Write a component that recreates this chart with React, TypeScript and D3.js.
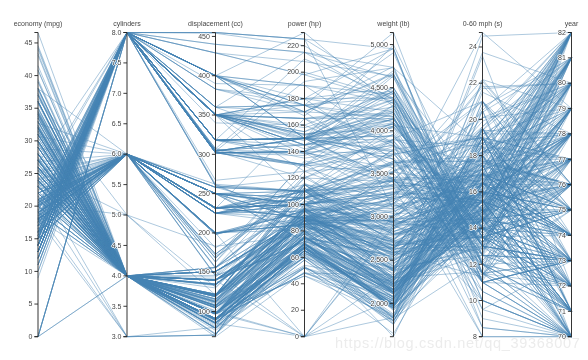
import React, { useEffect, useRef } from "react";
import * as d3 from "d3";

// Each row: economy (mpg), cylinders, displacement (cc), power (hp), weight (lb), 0-60 mph (s)
const cars70 = [
[18,8,307,130,3504,12],[15,8,350,165,3693,11.5],[18,8,318,150,3436,11],[16,8,304,150,3433,12],[17,8,302,140,3449,10.5],
[15,8,429,198,4341,10],[14,8,454,220,4354,9],[14,8,440,215,4312,8.5],[14,8,455,225,4425,10],[15,8,390,190,3850,8.5],
[0,4,133,115,3090,17.5],[0,8,350,165,4142,11.5],[0,8,351,153,4034,11],[0,8,383,175,4166,10.5],[0,8,360,175,3850,11],
[0,8,302,140,3353,8],[15,8,383,170,3563,10],[14,8,340,160,3609,8],[15,8,400,150,3761,9.5],[14,8,455,225,3086,10],
[24,4,113,95,2372,15],[22,6,198,95,2833,15.5],[18,6,199,97,2774,15.5],[21,6,200,85,2587,16],[27,4,97,88,2130,14.5],
[26,4,97,46,1835,20.5],[25,4,110,87,2672,17.5],[24,4,107,90,2430,14.5],[25,4,104,95,2375,17.5],[26,4,121,113,2234,12.5],
[21,6,199,90,2648,15],[10,8,360,215,4615,14],[10,8,307,200,4376,15],[11,8,318,210,4382,13.5],[9,8,304,193,4732,18.5],
];
const cars71 = [
[27,4,97,88,2130,14.5],[28,4,140,90,2264,15.5],[25,4,113,95,2228,14],[25,4,98,0,2046,19],[19,6,232,100,2634,13],
[16,6,225,105,3439,15.5],[17,6,250,100,3329,15.5],[19,6,250,88,3302,15.5],[18,6,232,100,3288,15.5],[14,8,350,165,4209,12],
[14,8,400,175,4464,11.5],[14,8,351,153,4154,13.5],[14,8,318,150,4096,13],[12,8,383,180,4955,11.5],[13,8,400,170,4746,12],
[13,8,400,175,5140,12],[18,6,258,110,2962,13.5],[22,4,140,72,2408,19],[19,6,250,100,3282,15],[18,6,250,88,3139,14.5],
[23,4,122,86,2220,14],[28,4,116,90,2123,14],[30,4,79,70,2074,19.5],[30,4,88,76,2065,14.5],[31,4,71,65,1773,19],
[35,4,72,69,1613,18],[27,4,97,60,1834,19],[26,4,91,70,1955,20.5],[24,4,113,95,2278,15.5],
];
const cars72 = [
[25,4,97.5,80,2126,17],[23,4,97,54,2254,23.5],[20,4,140,90,2408,19.5],[21,4,122,86,2226,16.5],[13,8,350,165,4274,12],
[14,8,400,175,4385,12],[15,8,318,150,4135,13.5],[14,8,351,153,4129,13],[17,8,304,150,3672,11.5],[11,8,429,208,4633,11],
[13,8,350,155,4502,13.5],[12,8,350,160,4456,13.5],[13,8,400,190,4422,12.5],[19,3,70,97,2330,13.5],[15,8,304,150,3892,12.5],
[13,8,307,130,4098,14],[13,8,302,140,4294,16],[14,8,318,150,4077,14],[18,4,121,112,2933,14.5],[22,4,121,76,2511,18],
[21,4,120,87,2979,19.5],[26,4,96,69,2189,18],[22,4,122,86,2395,16],[28,4,97,92,2288,17],[23,4,120,97,2506,14.5],
[28,4,98,80,2164,15],[27,4,97,88,2100,16.5],
];
const cars73 = [
[13,8,350,175,4100,13],[14,8,304,150,3672,11.5],[13,8,350,145,3988,13],[14,8,302,137,4042,14.5],[15,8,318,150,3777,12.5],
[12,8,429,198,4952,11.5],[13,8,400,150,4464,12],[13,8,351,158,4363,13],[14,8,318,150,4237,14.5],[13,8,440,215,4735,11],
[12,8,455,225,4951,11],[13,8,360,175,3821,11],[18,6,225,105,3121,16.5],[16,6,250,100,3278,18],[18,6,232,100,2945,16],
[18,6,250,88,3021,16.5],[23,6,198,95,2904,16],[26,4,97,46,1950,21],[11,8,400,150,4997,14],[12,8,400,167,4906,12.5],
[13,8,360,170,4654,13],[12,8,350,180,4499,12.5],[18,6,232,100,2789,15],[20,4,97,88,2279,19],[21,4,140,72,2401,19.5],
[22,4,108,94,2379,16.5],[18,3,70,90,2124,13.5],[19,4,122,85,2310,18.5],[21,6,155,107,2472,14],[26,4,98,90,2265,15.5],
[15,8,350,145,4082,13],[16,8,400,230,4278,9.5],[29,4,68,49,1867,19.5],[24,4,116,75,2158,15.5],[20,4,114,91,2582,14],
[19,4,121,112,2868,15.5],[15,8,318,150,3399,11],[24,4,121,110,2660,14],[20,6,156,122,2807,13.5],[11,8,350,180,3664,11],
];
const cars74 = [
[20,6,198,95,3102,16.5],[21,6,200,0,2875,17],[19,6,232,100,2901,16],[15,6,250,100,3336,17],[31,4,79,67,1950,19],
[26,4,122,80,2451,16.5],[32,4,71,65,1836,21],[25,4,140,75,2542,17],[16,6,250,100,3781,17],[16,6,258,110,3632,18],
[18,6,225,105,3613,16.5],[16,8,302,140,4141,14],[13,8,350,150,4699,14.5],[14,8,318,150,4457,13.5],[14,8,302,140,4638,16],
[14,8,304,150,4257,15.5],[29,4,98,83,2219,16.5],[26,4,79,67,1963,15.5],[26,4,97,78,2300,14.5],[31,4,76,52,1649,16.5],
[32,4,83,61,2003,19],[28,4,90,75,2125,14.5],[24,4,90,75,2108,15.5],[26,4,116,75,2246,14],[24,4,120,97,2489,15],
[26,4,108,93,2391,15.5],[31,4,79,67,2000,16],
];
const cars75 = [
[19,6,225,95,3264,16],[18,6,250,105,3459,16],[15,6,250,72,3432,21],[15,6,250,72,3158,19.5],[16,8,400,170,4668,11.5],
[15,8,350,145,4440,14],[16,8,318,150,4498,14.5],[14,8,351,148,4657,13.5],[17,6,231,110,3907,21],[16,6,250,105,3897,18.5],
[15,6,258,110,3730,19],[18,6,225,95,3785,19],[21,6,231,110,3039,15],[20,8,262,110,3221,13.5],[13,8,302,129,3169,12],
[29,4,97,75,2171,16],[23,4,140,83,2639,17],[20,6,232,100,2914,16],[23,4,140,78,2592,18.5],[24,4,134,96,2702,13.5],
[25,4,90,71,2223,16.5],[24,4,119,97,2545,17],[18,6,171,97,2984,14.5],[29,4,90,70,1937,14],[19,6,232,90,3211,17],
[23,4,115,95,2694,15],[23,4,120,88,2957,17],[22,4,121,98,2945,14.5],[25,4,121,115,2671,13.5],[33,4,91,53,1795,17.5],
];
const cars76 = [
[28,4,107,86,2464,15.5],[25,4,116,81,2220,16.9],[25,4,140,92,2572,14.9],[26,4,98,79,2255,17.7],[27,4,101,83,2202,15.3],
[17.5,8,305,140,4215,13],[16,8,318,150,4190,13],[15.5,8,304,120,3962,13.9],[14.5,8,351,152,4215,12.8],[22,6,225,100,3233,15.4],
[22,6,250,105,3353,14.5],[24,6,200,81,3012,17.6],[22.5,6,232,90,3085,17.6],[29,4,85,52,2035,22.2],[24.5,4,98,60,2164,22.1],
[29,4,90,70,1937,14.2],[33,4,91,53,1795,17.4],[20,6,225,100,3651,17.7],[18,6,250,78,3574,21],[18.5,6,250,110,3645,16.2],
[17.5,6,258,95,3193,17.8],[29.5,4,97,71,1825,12.2],[32,4,85,70,1990,17],[28,4,97,75,2155,16.4],[26.5,4,140,72,2565,13.6],
[20,4,130,102,3150,15.7],[13,8,318,150,3940,13.2],[19,4,120,88,3270,21.9],[19,6,156,108,2930,15.5],[16.5,6,168,120,3820,16.7],
[16.5,8,350,180,4380,12.1],[13,8,350,145,4055,12],[13,8,302,130,3870,15],[13,8,318,150,3755,14],
];
const cars77 = [
[31.5,4,98,68,2045,18.5],[30,4,111,80,2155,14.8],[36,4,79,58,1825,18.6],[25.5,4,122,96,2300,15.5],[33.5,4,85,70,1945,16.8],
[17.5,8,305,145,3880,12.5],[17,8,260,110,4060,19],[15.5,8,318,145,4140,13.7],[15,8,302,130,4295,14.9],[17.5,6,250,110,3520,16.4],
[20.5,6,231,105,3425,16.9],[19,6,225,100,3630,17.7],[18.5,6,250,98,3525,19],[16,8,400,180,4220,11.1],[15.5,8,350,170,4165,11.4],
[15.5,8,400,190,4325,12.2],[16,8,351,149,4335,14.5],[29,4,97,78,1940,14.5],[24.5,4,151,88,2740,16],[26,4,97,75,2265,18.2],
[25.5,4,140,89,2755,15.8],[30.5,4,98,63,2051,17],[33.5,4,98,83,2075,15.9],[30,4,97,67,1985,16.4],[30.5,4,97,78,2190,14.1],
[22,6,146,97,2815,14.5],[21.5,4,121,110,2600,12.8],[21.5,3,80,110,2720,13.5],
];
const cars78 = [
[43.1,4,90,48,1985,21.5],[36.1,4,98,66,1800,14.4],[32.8,4,78,52,1985,19.4],[39.4,4,85,70,2070,18.6],[36.1,4,91,60,1800,16.4],
[19.9,8,260,110,3365,15.5],[19.4,8,318,140,3735,13.2],[20.2,8,302,139,3570,12.8],[19.2,6,231,105,3535,19.2],[20.5,6,200,95,3155,18.2],
[20.2,6,200,85,2965,15.8],[25.1,4,140,88,2720,15.4],[20.5,6,225,100,3430,17.2],[19.4,6,232,90,3210,17.2],[20.6,6,231,105,3380,15.8],
[20.8,6,200,85,3070,16.7],[18.6,6,225,110,3620,18.7],[18.1,6,258,120,3410,15.1],[19.2,8,305,145,3425,13.2],[17.7,6,231,165,3445,13.4],
[18.1,8,302,139,3205,11.2],[17.5,8,318,140,4080,13.7],[30,4,98,68,2155,16.5],[27.5,4,134,95,2560,14.2],[27.2,4,119,97,2300,14.7],
[30.9,4,105,75,2230,14.5],[21.1,4,134,95,2515,14.8],[23.2,4,156,105,2745,16.7],[23.8,4,151,85,2855,17.6],[23.9,4,119,97,2405,14.9],
[20.3,5,131,103,2830,15.9],[17,6,163,125,3140,13.6],[21.6,4,121,115,2795,15.7],[16.2,6,163,133,3410,15.8],[31.5,4,89,71,1990,14.9],
[29.5,4,98,68,2135,16.6],
];
const cars79 = [
[21.5,6,231,115,3245,15.4],[19.8,6,200,85,2990,18.2],[22.3,4,140,88,2890,17.3],[20.2,6,232,90,3265,18.2],[20.6,6,225,110,3360,16.6],
[17,8,305,130,3840,15.4],[17.6,8,302,129,3725,13.4],[16.5,8,351,138,3955,13.2],[18.2,8,318,135,3830,15.2],[16.9,8,350,155,4360,14.9],
[15.5,8,351,142,4054,14.3],[19.2,8,267,125,3605,15],[18.5,8,360,150,3940,13],[31.9,4,89,71,1925,14],[34.1,4,86,65,1975,15.2],
[35.7,4,98,80,1915,14.4],[27.4,4,121,80,2670,15],[25.4,5,183,77,3530,20.1],[23,8,350,125,3900,17.4],[27.2,4,141,71,3190,24.8],
[23.9,8,260,90,3420,22.2],[34.2,4,105,70,2200,13.2],[34.5,4,105,70,2150,14.9],[31.8,4,85,65,2020,19.2],[37.3,4,91,69,2130,14.7],
[28.4,4,151,90,2670,16],[28.8,6,173,115,2595,11.3],[26.8,6,173,115,2700,12.9],[33.5,4,151,90,2556,13.2],
];
const cars80 = [
[41.5,4,98,76,2144,14.7],[38.1,4,89,60,1968,18.8],[32.1,4,98,70,2120,15.5],[37.2,4,86,65,2019,16.4],[28,4,151,90,2678,16.5],
[26.4,4,140,88,2870,18.1],[24.3,4,151,90,3003,20.1],[19.1,6,225,90,3381,18.7],[34.3,4,97,78,2188,15.8],[29.8,4,134,90,2711,15.5],
[31.3,4,120,75,2542,17.5],[37,4,119,92,2434,15],[32.2,4,108,75,2265,15.2],[46.6,4,86,65,2110,17.9],[27.9,4,156,105,2800,14.4],
[40.8,4,85,65,2110,19.2],[44.3,4,90,48,2085,21.7],[43.4,4,90,48,2335,23.7],[36.4,5,121,67,2950,19.9],[30,4,146,67,3250,21.8],
[44.6,4,91,67,1850,13.8],[40.9,4,85,0,1835,17.3],[33.8,4,97,67,2145,18],[29.8,4,89,62,1845,15.3],[32.7,6,168,132,2910,11.4],
[23.7,3,70,100,2420,12.5],[35,4,122,88,2500,15.1],[23.6,4,140,0,2905,14.3],[32.4,4,107,72,2290,17],
];
const cars81 = [
[27.2,4,135,84,2490,15.7],[26.6,4,151,84,2635,16.4],[25.8,4,156,92,2620,14.4],[23.5,6,173,110,2725,12.6],[30,4,135,84,2385,12.9],
[39.1,4,79,58,1755,16.9],[39,4,86,64,1875,16.4],[35.1,4,81,60,1760,16.1],[32.3,4,97,67,2065,17.8],[37,4,85,65,1975,19.4],
[37.7,4,89,62,2050,17.3],[34.1,4,91,68,1985,16],[34.7,4,105,63,2215,14.9],[34.4,4,98,65,2045,16.2],[29.9,4,98,65,2380,20.7],
[33,4,105,74,2190,14.2],[34.5,4,100,0,2320,15.8],[33.7,4,107,75,2210,14.4],[32.4,4,108,75,2350,16.8],[32.9,4,119,100,2615,14.8],
[31.6,4,120,74,2635,18.3],[0,4,121,110,2800,15.4],[28.1,4,141,80,3230,20.4],[30.7,6,145,76,3160,19.6],[25.4,6,168,116,2900,12.6],
[24.2,6,146,120,2930,13.8],[22.4,6,231,110,3415,15.8],[26.6,8,350,105,3725,19],[20.2,6,200,88,3060,17.1],[17.6,6,225,85,3465,16.6],
];
const cars82 = [
[28,4,112,88,2605,19.6],[27,4,112,88,2640,18.6],[34,4,112,88,2395,18],[31,4,112,85,2575,16.2],[29,4,135,84,2525,16],
[27,4,151,90,2735,18],[24,4,140,92,2865,16.4],[23,4,151,0,3035,20.5],[36,4,105,74,1980,15.3],[37,4,91,68,2025,18.2],
[31,4,91,68,1970,17.6],[38,4,105,63,2125,14.7],[36,4,98,70,2125,17.3],[36,4,120,88,2160,14.5],[36,4,107,75,2205,14.5],
[34,4,108,70,2245,16.9],[38,4,91,67,1965,15],[32,4,91,67,1965,15.7],[38,4,91,67,1995,16.2],[25,6,181,110,2945,16.4],
[38,6,262,85,3015,17],[26,4,156,92,2585,14.5],[22,6,232,112,2835,14.7],[32,4,144,96,2665,13.9],[36,4,135,84,2370,13],
[27,4,151,90,2950,17.3],[27,4,140,86,2790,15.6],[44,4,97,52,2130,24.6],[32,4,135,84,2295,11.6],[28,4,120,79,2625,18.6],
[31,4,119,82,2720,19.4],
];
const carsByYear: [number, number[][]][] = [
  [70, cars70],[71, cars71],[72, cars72],[73, cars73],[74, cars74],[75, cars75],[76, cars76],
  [77, cars77],[78, cars78],[79, cars79],[80, cars80],[81, cars81],[82, cars82],
];

const dimensionNames = ["economy (mpg)", "cylinders", "displacement (cc)", "power (hp)", "weight (lb)", "0-60 mph (s)", "year"];
const dimensionTicks = [
  [0,5,10,15,20,25,30,35,40,45],
  [3,3.5,4,4.5,5,5.5,6,6.5,7,7.5,8],
  [100,150,200,250,300,350,400,450],
  [0,20,40,60,80,100,120,140,160,180,200,220],
  [2000,2500,3000,3500,4000,4500,5000],
  [8,10,12,14,16,18,20,22,24],
  [70,71,72,73,74,75,76,77,78,79,80,81,82],
];
const tickFormats = [".0f", ".1f", ".0f", ".0f", ",.0f", ".0f", ".0f"];
const watermark = "https://blog.csdn.net/qq_39368007";

const WIDTH = 588, HEIGHT = 360;
const AXIS_X = [38, 127, 215.5, 304.5, 393.5, 482.5, 571.5];
const TOP = 32.5, BOTTOM = 336.7;

export default function App() {
  const axesRef = useRef<SVGGElement>(null);
  const rows = carsByYear.flatMap(([year, list]) => list.map((r) => [...r, year]));
  const xScale = d3.scaleOrdinal<number, number>().domain(d3.range(7)).range(AXIS_X);
  const yScales = d3.range(7).map((i) =>
    d3.scaleLinear().domain(d3.extent(rows, (r) => r[i]) as [number, number]).range([BOTTOM, TOP])
  );
  const line = d3.line<number>().x((_, i) => xScale(i)).y((v, i) => yScales[i](v));

  useEffect(() => {
    const root = d3.select(axesRef.current!);
    root.selectAll("*").remove();
    d3.range(7).forEach((i) => {
      const g = root.append("g").attr("transform", `translate(${xScale(i)},0)`);
      g.call(
        d3.axisLeft(yScales[i]).tickValues(dimensionTicks[i]).tickFormat(d3.format(tickFormats[i]) as any).tickSize(3.6).tickPadding(2).tickSizeOuter(3.6).offset(0)
      );
      g.attr("font-family", "Liberation Sans, Arial, sans-serif").attr("font-size", 7);
      g.selectAll("path.domain").attr("stroke", "#333").attr("stroke-width", 1);
      g.selectAll("line").attr("stroke", "#222").attr("stroke-width", 0.9);
      g.selectAll("text").attr("fill", "#444").style("text-shadow", "0 1px 0 #fff, 1px 0 0 #fff, 0 -1px 0 #fff, -1px 0 0 #fff");
      g.append("text")
        .attr("text-anchor", "middle").attr("y", 26).attr("fill", "#444")
        .attr("font-size", 7).text(dimensionNames[i]);
    });
  });

  return (
    <svg width={WIDTH} height={HEIGHT} style={{ position: "absolute", left: 0, top: 0, background: "#fff" }}>
      <g fill="none" stroke="steelblue" strokeOpacity={0.55} strokeWidth={0.8}>
        {rows.map((r, i) => <path key={i} d={line(r)!} />)}
      </g>
      <g ref={axesRef} opacity={0.99} />
      <text x={335} y={348} fontFamily="Liberation Sans, Arial, sans-serif" fontSize={14.5} letterSpacing={0.7} fill="#ececec" opacity={0.99}>{watermark}</text>
    </svg>
  );
}
